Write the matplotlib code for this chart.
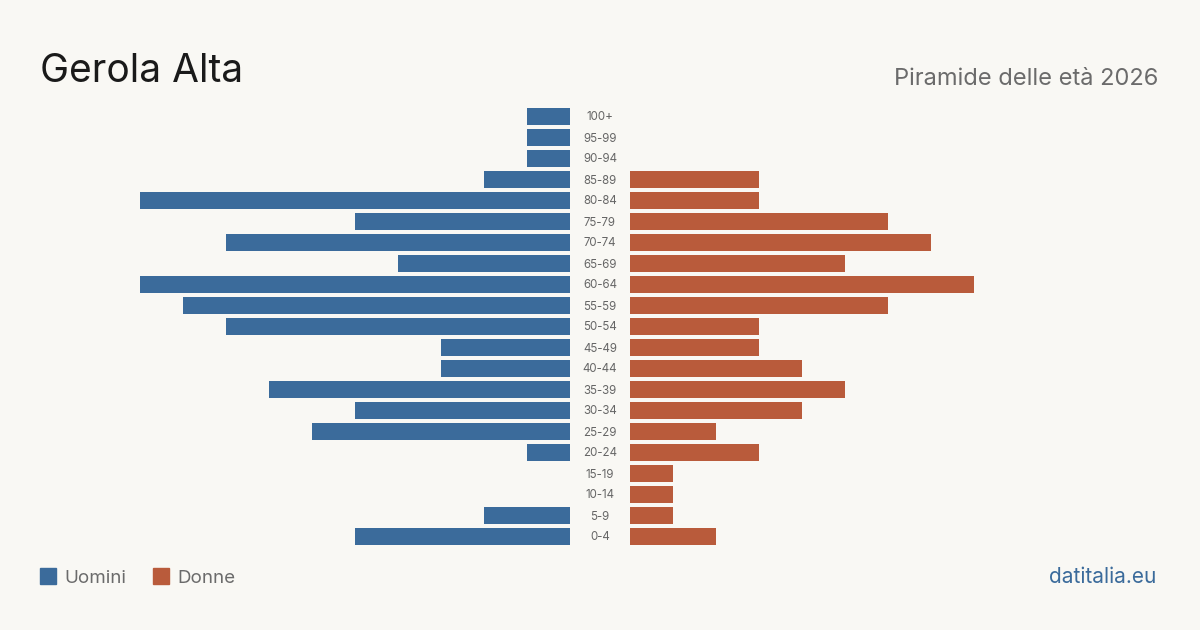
import matplotlib
matplotlib.use("Agg")
import matplotlib.pyplot as plt
from matplotlib.patches import Rectangle

plt.rcParams['font.family'] = ['Inter', 'DejaVu Sans']

age_groups = ["100+", "95-99", "90-94", "85-89", "80-84", "75-79", "70-74", "65-69",
              "60-64", "55-59", "50-54", "45-49", "40-44", "35-39", "30-34", "25-29",
              "20-24", "15-19", "10-14", "5-9", "0-4"]
men = [1, 1, 1, 2, 10, 5, 8, 4, 10, 9, 8, 3, 3, 7, 5, 6, 1, 0, 0, 2, 5]
women = [0, 0, 0, 3, 3, 6, 7, 5, 8, 6, 3, 3, 4, 5, 4, 2, 3, 1, 1, 1, 2]

title = "Gerola Alta"
subtitle = "Piramide delle età 2026"
legend_labels = ["Uomini", "Donne"]
source = "datitalia.eu"

BG = "#f9f8f4"
BLUE = "#3b6b9b"
ORANGE = "#b95b3b"
W, H = 1200, 630

fig = plt.figure(figsize=(12, 6.3), dpi=100, facecolor=BG)

n = len(age_groups)
top_px, row = 105.5, 21.0
bottom_px = top_px + row * n
ax_h = (bottom_px - top_px) / H
ax_y = 1 - bottom_px / H
unit = 43.0
span = 10

axL = fig.add_axes([(570 - unit * span) / W, ax_y, unit * span / W, ax_h])
axR = fig.add_axes([630 / W, ax_y, unit * span / W, ax_h])
ypos = list(range(n))
for ax in (axL, axR):
    ax.set_facecolor('none')
    ax.set_ylim(n - 0.5, -0.5)
    ax.axis('off')
axL.barh(ypos, men, height=17 / 21, color=BLUE)
axL.set_xlim(span, 0)
axR.barh(ypos, women, height=17 / 21, color=ORANGE)
axR.set_xlim(0, span)

for i, lab in enumerate(age_groups):
    y = 1 - (top_px + row * (i + 0.5) + 1.5) / H
    fig.text(600 / W, y, lab, ha='center', va='center', fontsize=8.3, color='#666666')

fig.text(40 / W, 1 - 82 / H, title, fontsize=28, color='#1a1a1a', ha='left', va='baseline')
fig.text(1158 / W, 1 - 85 / H, subtitle, fontsize=17, color='#6b6b6b', ha='right', va='baseline')

# legend
for x0, lab, col in [(40, legend_labels[0], BLUE), (153, legend_labels[1], ORANGE)]:
    fig.patches.append(Rectangle((x0 / W, 1 - 584 / H), 16 / W, 16 / H,
                                 transform=fig.transFigure, color=col))
    fig.text((x0 + 24) / W, 1 - 583 / H, lab, fontsize=13.5, color='#6b6b6b',
             ha='left', va='baseline')

fig.text(1156 / W, 1 - 583 / H, source, fontsize=15, color=BLUE, ha='right', va='baseline')

fig.savefig("out.png", dpi=100, facecolor=BG)
